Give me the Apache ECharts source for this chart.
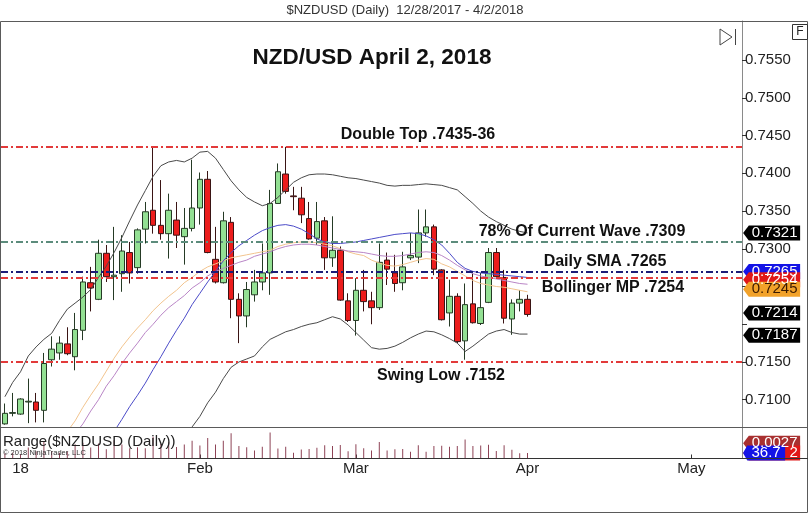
<!DOCTYPE html>
<html>
<head>
<meta charset="utf-8">
<script src="https://cdn.jsdelivr.net/npm/echarts@6/dist/echarts.min.js"></script>
<style>
html,body{margin:0;padding:0;background:#fff;}
#chart{width:810px;height:515px;}
</style>
</head>
<body>
<div id="chart"></div>
<script>
// ---- categories (trading days) ----
const dates = ['12/28','12/29','1/1','1/2','1/3','1/4','1/5','1/8','1/9','1/10','1/11','1/12','1/15','1/16','1/17','1/18','1/19','1/22','1/23','1/24','1/25','1/26','1/29','1/30','1/31','2/1','2/2','2/5','2/6','2/7','2/8','2/9','2/12','2/13','2/14','2/15','2/16','2/19','2/20','2/21','2/22','2/23','2/26','2/27','2/28','3/1','3/2','3/5','3/6','3/7','3/8','3/9','3/12','3/13','3/14','3/15','3/16','3/19','3/20','3/21','3/22','3/23','3/26','3/27','3/28','3/29','3/30','4/2','4/3','4/4','4/5','4/6','4/9','4/10','4/11','4/12','4/13','4/16','4/17','4/18','4/19','4/20','4/23','4/24','4/25','4/26','4/27','4/30','5/1','5/2','5/3','5/4','5/7','5/8','5/9'];
const monthLabels = {'1/1':'18','2/1':'Feb','3/1':'Mar','4/2':'Apr','5/1':'May'};
const priceTicks = [0.7100,0.7150,0.7200,0.7250,0.7300,0.7350,0.7400,0.7450,0.7500,0.7550];
const priceTickLabels = [0.7100,0.7150,0.7300,0.7350,0.7400,0.7450,0.7500,0.7550];

// ---- OHLC ----
const opens = [0.7068,0.7082,0.7081,0.7097,0.7097,0.7086,0.7153,0.7162,0.7174,0.7157,
0.7192,0.7255,0.7233,0.7294,0.7263,0.7267,0.7295,0.7275,0.7326,0.7351,
0.7331,0.7320,0.7338,0.7316,0.7327,0.7354,0.7392,0.7286,0.7255,0.7335,
0.7233,0.7211,0.7239,0.7256,0.7268,0.7360,0.7399,0.7370,0.7367,0.7340,
0.7314,0.7337,0.7288,0.7298,0.7231,0.7205,0.7245,0.7231,0.7222,0.7285,
0.7268,0.7255,0.7288,0.7289,0.7321,0.7329,0.7272,0.7215,0.7237,0.7178,
0.7227,0.7201,0.7229,0.7295,0.7262,0.7207,0.7228,0.7233];
const closes = [0.7082,0.7083,0.7101,0.7098,0.7086,0.7148,0.7167,0.7175,0.7161,0.7193,
0.7256,0.7248,0.7294,0.7263,0.7265,0.7297,0.7268,0.7325,0.7349,0.7331,
0.7320,0.7351,0.7318,0.7327,0.7354,0.7392,0.7295,0.7256,0.7337,0.7233,
0.7211,0.7246,0.7256,0.7268,0.7360,0.7402,0.7376,0.7369,0.7345,0.7313,
0.7336,0.7288,0.7298,0.7232,0.7205,0.7245,0.7230,0.7222,0.7282,0.7273,
0.7254,0.7276,0.7291,0.7321,0.7329,0.7273,0.7206,0.7237,0.7177,0.7226,
0.7202,0.7222,0.7295,0.7263,0.7208,0.7228,0.7233,0.7213];
const lows = [0.7067,0.7078,0.7080,0.7069,0.7070,0.7070,0.7144,0.7153,0.7159,0.7139,
0.7179,0.7217,0.7232,0.7256,0.7232,0.7243,0.7254,0.7267,0.7307,0.7320,
0.7312,0.7287,0.7301,0.7279,0.7323,0.7332,0.7294,0.7254,0.7254,0.7208,
0.7175,0.7196,0.7230,0.7245,0.7239,0.7360,0.7373,0.7351,0.7334,0.7312,
0.7305,0.7272,0.7276,0.7231,0.7203,0.7185,0.7217,0.7200,0.7219,0.7252,
0.7243,0.7245,0.7285,0.7281,0.7316,0.7265,0.7205,0.7197,0.7175,0.7153,
0.7201,0.7199,0.7228,0.7261,0.7201,0.7186,0.7217,0.7210];
const highs = [0.7095,0.7109,0.7102,0.7128,0.7109,0.7162,0.7184,0.7184,0.7196,0.7215,
0.7263,0.7276,0.7312,0.7305,0.7329,0.7318,0.7309,0.7327,0.7362,0.7436,
0.7391,0.7373,0.7362,0.7354,0.7418,0.7401,0.7403,0.7329,0.7349,0.7342,
0.7241,0.7256,0.7272,0.7307,0.7378,0.7413,0.7435,0.7382,0.7382,0.7362,
0.7362,0.7342,0.7343,0.7303,0.7241,0.7261,0.7272,0.7243,0.7307,0.7295,
0.7292,0.7296,0.7321,0.7352,0.7352,0.7332,0.7273,0.7259,0.7241,0.7254,
0.7268,0.7268,0.7301,0.7301,0.7272,0.7233,0.7245,0.7239];

// ---- indicator lines ----
const upperBand = [0.7104,0.7123,0.7137,0.7158,0.7170,0.7180,0.7188,0.7205,0.7220,0.7228,
0.7236,0.7246,0.7262,0.7277,0.7295,0.7315,0.7337,0.7358,0.7377,0.7396,
0.7410,0.7415,0.7417,0.7415,0.7420,0.7428,0.7429,0.7420,0.7405,0.7390,
0.7378,0.7368,0.7362,0.7357,0.7360,0.7368,0.7378,0.7388,0.7394,0.7398,
0.7399,0.7399,0.7398,0.7396,0.7394,0.7393,0.7391,0.7389,0.7387,0.7384,
0.7383,0.7384,0.7384,0.7385,0.7386,0.7385,0.7384,0.7381,0.7378,0.7369,
0.7360,0.7350,0.7342,0.7336,0.7331,0.7326,0.7323,0.7321];
const lowerBand = [null,null,null,null,null,null,null,null,null,null,
null,null,null,null,null,null,null,null,null,null,
null,null,null,0.7048,0.7064,0.7078,0.7096,0.7110,0.7128,0.7143,
0.7150,0.7154,0.7158,0.7170,0.7180,0.7185,0.7190,0.7193,0.7197,0.7200,
0.7202,0.7206,0.7210,0.7207,0.7199,0.7189,0.7179,0.7169,0.7167,0.7168,
0.7171,0.7176,0.7182,0.7187,0.7191,0.7190,0.7186,0.7181,0.7175,0.7164,
0.7171,0.7179,0.7187,0.7191,0.7193,0.7189,0.7187,0.7187];
const smaBlue = [null,null,null,null,null,null,null,null,null,null,
null,null,null,null,0.7058,0.7074,0.7091,0.7106,0.7122,0.7140,
0.7157,0.7175,0.7192,0.7208,0.7226,0.7241,0.7256,0.7270,0.7284,0.7295,
0.7304,0.7311,0.7318,0.7324,0.7328,0.7331,0.7332,0.7330,0.7326,0.7320,
0.7313,0.7309,0.7307,0.7307,0.7308,0.7309,0.7311,0.7313,0.7315,0.7317,
0.7319,0.7320,0.7321,0.7320,0.7317,0.7312,0.7305,0.7294,0.7282,0.7274,
0.7270,0.7268,0.7267,0.7266,0.7265,0.7264,0.7263,0.7262];
const maViolet = [null,null,null,null,null,null,null,null,null,0.7055,
0.7068,0.7085,0.7100,0.7118,0.7132,0.7148,0.7162,0.7175,0.7189,0.7200,
0.7212,0.7222,0.7230,0.7238,0.7248,0.7255,0.7264,0.7270,0.7274,0.7278,
0.7282,0.7285,0.7290,0.7293,0.7296,0.7300,0.7303,0.7305,0.7306,0.7306,
0.7305,0.7303,0.7301,0.7299,0.7297,0.7296,0.7295,0.7293,0.7291,0.7290,
0.7290,0.7291,0.7293,0.7295,0.7296,0.7295,0.7291,0.7285,0.7278,0.7272,
0.7267,0.7264,0.7262,0.7260,0.7258,0.7256,0.7254,0.7253];
const maTan = [null,null,null,null,null,null,null,null,0.7058,0.7072,
0.7090,0.7106,0.7121,0.7138,0.7155,0.7170,0.7183,0.7195,0.7206,0.7218,
0.7228,0.7237,0.7245,0.7255,0.7262,0.7270,0.7276,0.7280,0.7284,0.7288,
0.7290,0.7292,0.7294,0.7296,0.7298,0.7303,0.7306,0.7308,0.7309,0.7309,
0.7308,0.7306,0.7304,0.7300,0.7296,0.7293,0.7291,0.7285,0.7281,0.7278,
0.7277,0.7279,0.7282,0.7285,0.7287,0.7286,0.7280,0.7276,0.7270,0.7264,
0.7258,0.7254,0.7252,0.7250,0.7249,0.7247,0.7245,0.7243];
const ranges = [0.0028,0.0031,0.0022,0.0059,0.0039,0.0092,0.0040,0.0031,0.0037,0.0076,
0.0084,0.0059,0.0080,0.0049,0.0097,0.0075,0.0055,0.0060,0.0055,0.0116,
0.0079,0.0086,0.0061,0.0075,0.0095,0.0069,0.0109,0.0075,0.0095,0.0134,
0.0066,0.0060,0.0042,0.0062,0.0139,0.0053,0.0062,0.0031,0.0048,0.0050,
0.0057,0.0070,0.0067,0.0072,0.0038,0.0076,0.0055,0.0043,0.0088,0.0043,
0.0049,0.0051,0.0036,0.0071,0.0036,0.0067,0.0068,0.0062,0.0066,0.0101,
0.0067,0.0069,0.0073,0.0040,0.0071,0.0047,0.0028,0.0029];

// ---- horizontal levels & price tags ----
const levels = [
  {v:0.7435, color:'#e23a3a'},
  {v:0.7309, color:'#5c8c7c'},
  {v:0.7269, color:'#1c1c78'},
  {v:0.7262, color:'#e23a3a'},
  {v:0.7150, color:'#e23a3a'}
];
const priceTags = [
  {v:0.7321, text:'0.7321', bg:'#000000', fg:'#ffffff'},
  {v:0.7270, text:'0.7265', bg:'#1414e6', fg:'#ffffff'},
  {v:0.7259, text:'0.7254', bg:'#e01818', fg:'#ffffff'},
  {v:0.72465, text:'0.7245', bg:'#f2a22a', fg:'#3a1a00'},
  {v:0.72150, text:'0.7214', bg:'#000000', fg:'#ffffff'},
  {v:0.71855, text:'0.7187', bg:'#000000', fg:'#ffffff'}
];
const rangeTags = [
  {v:0.0081, text:'0.0027', bg:'#a83030', fg:'#ffffff', w:57, dx:3},
  {v:0.0029, text:'2', bg:'#e01818', fg:'#ffffff', w:57, dx:22},
  {v:0.0029, text:'36.7', bg:'#1414e6', fg:'#ffffff', w:42, dx:2}
];

const FONT = 'Liberation Sans, Arial, sans-serif';
const tagPath = 'path://M0,6 L6,0 L60,0 L60,12 L6,12 Z';
const lastCat = dates[dates.length - 1];

const candleData = opens.map((o, i) => [o, closes[i], lows[i], highs[i]]);

function tagPoint(t, w, dx) {
  const width = w || 57;
  return {
    coord: [lastCat, t.v],
    symbol: tagPath,
    symbolKeepAspect: false,
    symbolSize: [width, 15],
    symbolOffset: [4 + width / 2 + 1, 0],
    itemStyle: {color: t.bg},
    label: {show: true, position: 'inside', formatter: t.text, color: t.fg,
      fontSize: 15, fontFamily: FONT, offset: [dx === undefined ? 3 : dx, 0]}
  };
}

const chart = echarts.init(document.getElementById('chart'), null, {renderer: 'canvas'});
const dashDot = [7, 3, 2, 3];

const option = {
  animation: false,
  backgroundColor: '#ffffff',
  grid: [
    {left: 1, right: 68, top: 21, height: 406},
    {left: 1, right: 68, top: 427.5, height: 31}
  ],
  xAxis: [
    {type: 'category', data: dates, gridIndex: 0, boundaryGap: true,
      axisLine: {show: false}, axisTick: {show: false}, axisLabel: {show: false}, splitLine: {show: false}},
    {type: 'category', data: dates, gridIndex: 1, boundaryGap: true,
      axisLine: {show: false},
      axisTick: {show: true, inside: true, length: 4, alignWithLabel: true,
        interval: (i, v) => monthLabels[v] !== undefined, lineStyle: {color: '#333'}},
      axisLabel: {interval: (i, v) => monthLabels[v] !== undefined,
        formatter: v => monthLabels[v] || '', fontSize: 15, color: '#222', margin: 3, fontFamily: FONT},
      splitLine: {show: false}}
  ],
  yAxis: [
    {type: 'value', gridIndex: 0, position: 'right', min: 0.70639, max: 0.76017, scale: true,
      axisLine: {show: true, lineStyle: {color: '#8a8a8a'}},
      axisTick: {show: true, length: 5, customValues: priceTicks, lineStyle: {color: '#333'}},
      axisLabel: {show: true, customValues: priceTickLabels, formatter: v => v.toFixed(4),
        fontSize: 15, color: '#222', margin: 3, fontFamily: FONT},
      splitLine: {show: false}},
    {type: 'value', gridIndex: 1, position: 'right', min: 0, max: 0.0165,
      axisLine: {show: true, lineStyle: {color: '#8a8a8a'}},
      axisTick: {show: false}, axisLabel: {show: false}, splitLine: {show: false}}
  ],
  series: [
    {type: 'candlestick', name: 'NZDUSD', xAxisIndex: 0, yAxisIndex: 0, data: candleData,
      barWidth: 6,
      itemStyle: {color: '#93e093', color0: '#ec1c1c', borderColor: '#253a25', borderColor0: '#3a1414', borderWidth: 1}},
    {type: 'line', name: 'upper', data: upperBand, symbol: 'none', silent: true,
      lineStyle: {color: '#4a4a4a', width: 1}},
    {type: 'line', name: 'lower', data: lowerBand, symbol: 'none', silent: true,
      lineStyle: {color: '#4a4a4a', width: 1}},
    {type: 'line', name: 'tan', data: maTan, symbol: 'none', silent: true,
      lineStyle: {color: '#f2c48e', width: 1}},
    {type: 'line', name: 'violet', data: maViolet, symbol: 'none', silent: true,
      lineStyle: {color: '#b985c6', width: 1}},
    {type: 'line', name: 'blue', data: smaBlue, symbol: 'none', silent: true,
      lineStyle: {color: '#4b4bc8', width: 1},
      markLine: {silent: true, precision: 4, symbol: ['none', 'none'], label: {show: false}, z: 10,
        data: levels.map(l => ({yAxis: l.v, lineStyle: {color: l.color, width: 2, type: dashDot}}))},
      markPoint: {silent: true, data: priceTags.map(t => tagPoint(t))}},
    {type: 'bar', name: 'range', xAxisIndex: 1, yAxisIndex: 1, data: ranges, barWidth: 1,
      itemStyle: {color: '#8e4356'}, silent: true,
      markPoint: {silent: true, data: rangeTags.map(t => tagPoint(t, t.w, t.dx))}}
  ],
  graphic: [
    {type: 'rect', z: 50, shape: {x: 0.5, y: 21.5, width: 807, height: 491}, style: {fill: null, stroke: '#5a5a5a', lineWidth: 1}},
    {type: 'line', z: 50, shape: {x1: 0, y1: 427.5, x2: 808, y2: 427.5}, style: {stroke: '#5a5a5a', lineWidth: 1}},
    {type: 'line', z: 50, shape: {x1: 0, y1: 458.5, x2: 808, y2: 458.5}, style: {stroke: '#333', lineWidth: 1}},
    {type: 'text', z: 60, x: 405, y: 10, style: {text: '$NZDUSD (Daily)  12/28/2017 - 4/2/2018', fill: '#333',
      font: '13px "Liberation Sans Narrow", Arial, sans-serif', textAlign: 'center', textVerticalAlign: 'middle'}},
    {type: 'text', z: 60, x: 372, y: 58, style: {text: 'NZD/USD April 2, 2018', fill: '#111',
      font: 'bold 22.5px ' + FONT, textAlign: 'center', textVerticalAlign: 'middle'}},
    {type: 'text', z: 60, x: 418, y: 135, style: {text: 'Double Top .7435-36', fill: '#111',
      font: 'bold 16px ' + FONT, textAlign: 'center', textVerticalAlign: 'middle'}},
    {type: 'text', z: 60, x: 582, y: 232, style: {text: '78% Of Current Wave .7309', fill: '#111',
      font: 'bold 16px ' + FONT, textAlign: 'center', textVerticalAlign: 'middle'}},
    {type: 'text', z: 60, x: 605, y: 262, style: {text: 'Daily SMA .7265', fill: '#111',
      font: 'bold 16px ' + FONT, textAlign: 'center', textVerticalAlign: 'middle'}},
    {type: 'text', z: 60, x: 613, y: 288, style: {text: 'Bollinger MP .7254', fill: '#111',
      font: 'bold 16px ' + FONT, textAlign: 'center', textVerticalAlign: 'middle'}},
    {type: 'text', z: 60, x: 441, y: 376, style: {text: 'Swing Low .7152', fill: '#111',
      font: 'bold 16px ' + FONT, textAlign: 'center', textVerticalAlign: 'middle'}},
    {type: 'text', z: 60, x: 3, y: 442, style: {text: 'Range($NZDUSD (Daily))', fill: '#222',
      font: '15px ' + FONT, textAlign: 'left', textVerticalAlign: 'middle'}},
    {type: 'text', z: 60, x: 3, y: 453, style: {text: '\u00a9 2018 NinjaTrader, LLC', fill: '#333',
      font: '7.5px ' + FONT, textAlign: 'left', textVerticalAlign: 'middle'}},
    {type: 'rect', z: 60, shape: {x: 792.5, y: 24.5, width: 15, height: 15}, style: {fill: '#fff', stroke: '#333', lineWidth: 1}},
    {type: 'text', z: 61, x: 800, y: 32, style: {text: 'F', fill: '#222', font: '12px ' + FONT, textAlign: 'center', textVerticalAlign: 'middle'}},
    {type: 'polygon', z: 60, shape: {points: [[720, 29], [732, 37], [720, 45]]}, style: {fill: null, stroke: '#444', lineWidth: 1}},
    {type: 'line', z: 60, shape: {x1: 735.5, y1: 29, x2: 735.5, y2: 45}, style: {stroke: '#444', lineWidth: 1}}
  ]
};
chart.setOption(option);
</script>
</body>
</html>
